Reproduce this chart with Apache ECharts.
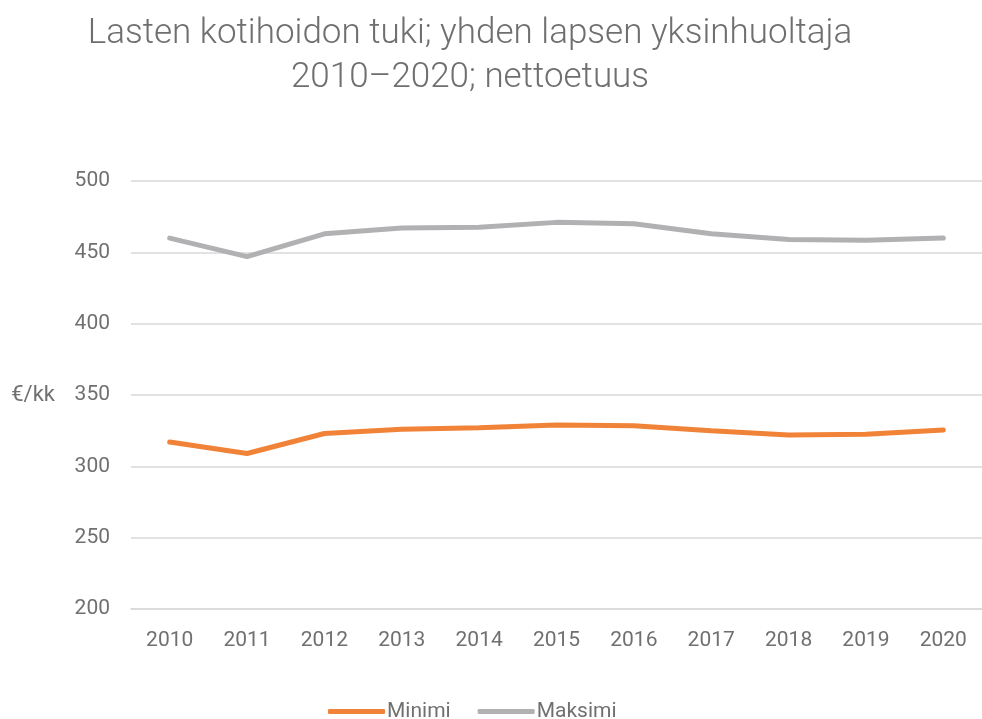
<!DOCTYPE html>
<html>
<head>
<meta charset="utf-8">
<script src="https://cdn.jsdelivr.net/npm/echarts@6/dist/echarts.min.js"></script>
<style>
html,body{margin:0;padding:0;background:#fff;}
#main{width:982px;height:719px;}
</style>
</head>
<body>
<div id="main"></div>
<script>
// vuodet ja arvot (€/kk)
var years = ['2010','2011','2012','2013','2014','2015','2016','2017','2018','2019','2020'];
var minimi = [317, 309, 323, 326, 327, 329, 328.5, 325, 322, 322.5, 325.5];
var maksimi = [460, 447, 463, 467, 467.5, 471, 470, 463, 459, 458.5, 460];
var yTicks = [200, 250, 300, 350, 400, 450, 500];

var txtColor = '#707070';
var chart = echarts.init(document.getElementById('main'));
var option = {
	backgroundColor: '#fff',
	animation: false,
	title: {
		text: 'Lasten kotihoidon tuki; yhden lapsen yksinhuoltaja\n2010\u20132020; nettoetuus',
		left: 465,
		top: 7,
		textAlign: 'center',
		textStyle: {
			fontFamily: 'Roboto',
			fontWeight: 300,
			fontSize: 35,
			lineHeight: 44,
			color: '#6f6f6f'
		}
	},
	grid: {left: 131, width: 856, top: 181, bottom: 110},
	xAxis: {
		type: 'category',
		data: years,
		boundaryGap: true,
		axisLine: {show: true, lineStyle: {color: '#d9d9d9', width: 1.5}},
		axisTick: {show: false},
		axisLabel: {color: txtColor, fontSize: 21, fontFamily: 'Roboto', margin: 21}
	},
	yAxis: {
		type: 'value',
		min: yTicks[0],
		max: yTicks[yTicks.length - 1],
		interval: 50,
		name: '\u20ac/kk',
		nameLocation: 'middle',
		nameRotate: 0,
		nameGap: 76,
		nameTextStyle: {color: txtColor, fontSize: 22, fontFamily: 'Roboto'},
		axisLine: {show: false},
		axisTick: {show: false},
		axisLabel: {color: txtColor, fontSize: 21, fontFamily: 'Roboto', margin: 21},
		splitLine: {lineStyle: {color: '#d9d9d9', width: 1.5}}
	},
	legend: {
		bottom: -8,
		left: 323,
		icon: 'roundRect',
		itemWidth: 57,
		itemHeight: 5,
		itemGap: 27,
		textStyle: {color: txtColor, fontSize: 21, fontFamily: 'Roboto', padding: [0, 0, 0, -3]},
		data: ['Minimi', 'Maksimi']
	},
	series: [
		{
			name: 'Minimi',
			type: 'line',
			data: minimi,
			symbol: 'none',
			lineStyle: {color: '#f08338', width: 5, cap: 'round'},
			itemStyle: {color: '#f08338'}
		},
		{
			name: 'Maksimi',
			type: 'line',
			data: maksimi,
			symbol: 'none',
			lineStyle: {color: '#b1b1b4', width: 5, cap: 'round'},
			itemStyle: {color: '#b1b1b4'}
		}
	]
};
chart.setOption(option);
</script>
</body>
</html>
